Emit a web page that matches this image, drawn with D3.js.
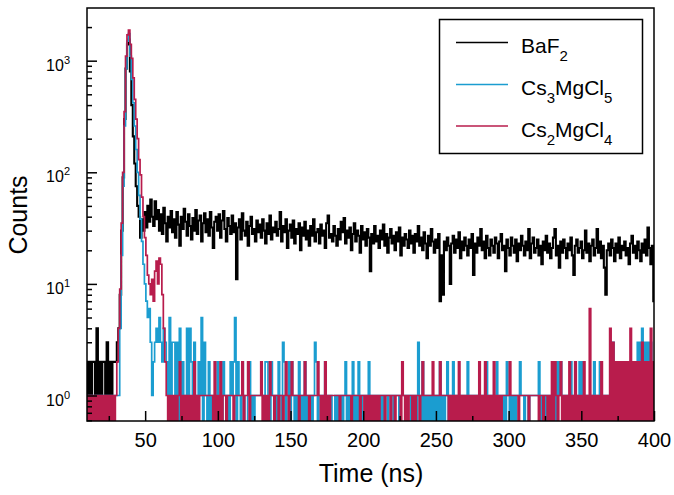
<!DOCTYPE html>
<html><head><meta charset="utf-8">
<script src="https://cdn.jsdelivr.net/npm/d3@7"></script>
<style>body{margin:0;background:#fff} text{font-family:"Liberation Sans",Arial,sans-serif;fill:#000}</style>
</head><body><svg id="c" width="674" height="495"></svg>
<script>
// time bins (ns)
const timeStart = 10, timeEnd = 400, timeStep = 1;

const baf2 = [
2,1,2,1,2,2,1,4,1,2,
1,2,2,1,3,1,2,1,2,2,
2,3,4,8,30,90,300,850,1400,1550,
800,400,210,120,75,50,40,26,38,30,
44,32,50,36,57,40,33,55,38,46,
30,42,28,48,35,24,40,32,45,29,
38,26,44,34,22,40,31,47,36,27,
42,33,25,39,30,46,28,37,41,24,
35,43,29,38,27,44,32,21,36,40,
30,42,26,37,45,31,24,39,33,28,
41,29,35,11,32,38,25,43,30,27,
36,22,33,40,28,31,24,37,29,34,
26,38,30,23,35,28,41,25,32,29,
36,27,31,44,24,33,29,38,21,30,
34,26,37,23,31,28,35,20,32,27,
36,25,30,22,33,27,38,24,29,31,
23,34,27,30,21,35,41,26,28,24,
33,27,22,31,25,36,29,39,23,30,
26,32,20,28,35,24,30,27,19,33,
25,29,22,31,26,13,28,23,33,24,
27,21,30,25,34,22,28,19,26,31,
23,27,20,29,24,32,18,26,22,28,
25,21,30,23,27,19,28,24,33,22,
26,20,29,23,17,27,22,31,24,19,
25,21,28,7,18,8,24,20,26,22,
10,23,27,19,25,21,29,17,24,20,
26,22,18,25,21,28,12,23,19,26,
22,31,20,24,17,27,21,18,25,22,
19,26,23,17,24,28,20,22,13,25,
21,18,26,22,19,25,16,23,20,27,
22,18,24,20,31,17,23,26,19,21,
25,18,22,15,24,20,27,19,23,17,
21,26,31,18,22,14,24,19,25,21,
17,23,20,26,18,12,22,25,19,21,
24,17,20,30,19,23,16,22,25,18,
21,31,19,24,17,22,14,8,20,23,
18,25,21,16,23,19,26,17,22,20,
24,18,21,15,23,27,19,22,17,24,
20,16,23,19,25,18,32,21,15,22,
7];

const cs3mgcl5 = [
1,1,1,0,1,1,1,1,0,1,
1,0,1,1,1,0,1,1,1,1,
1,1,1,4,18,75,260,850,1500,1750,
1100,680,420,260,160,100,62,38,24,15,
10,7,5,6,3,1,2,3,4,3,
5,3,2,4,3,2,1,5,1,3,
3,1,3,0,4,1,2,0,1,4,
1,4,2,1,3,0,1,2,1,5,
0,3,1,0,2,0,1,0,1,0,
2,0,1,0,2,1,0,1,0,2,
1,2,5,0,2,1,0,2,1,0,
0,1,2,0,1,0,1,1,1,1,
1,1,0,2,2,1,0,2,1,0,
1,0,2,1,0,3,2,0,1,2,
0,2,1,0,1,0,2,0,1,0,
2,0,1,0,1,0,1,3,2,0,
1,1,1,1,2,1,1,0,1,0,
0,1,0,1,0,1,0,1,2,0,
1,0,1,2,0,1,0,2,1,0,
1,1,1,1,2,1,1,1,1,1,
1,1,0,1,0,1,1,0,1,1,
1,0,1,1,1,0,1,1,1,1,
0,1,1,0,1,1,1,0,3,1,
0,2,0,1,0,1,0,1,0,1,
0,1,0,2,0,1,0,1,2,0,
1,1,2,1,1,1,1,1,1,1,
1,1,2,1,1,1,1,1,1,1,
1,1,1,1,1,2,1,1,1,1,
1,1,2,1,1,1,0,1,0,2,
1,0,1,0,1,0,1,1,2,1,
1,0,1,1,0,1,1,1,1,1,
1,2,0,1,0,1,0,1,0,1,
1,0,2,0,2,1,2,1,0,1,
1,1,0,2,1,1,2,1,1,2,
1,2,1,1,1,1,1,1,1,2,
1,1,1,2,1,1,1,1,1,1,
1,1,3,1,2,1,1,1,1,1,
1,1,2,1,1,1,2,1,1,3,
1,3,4,1,3,1,3,1,3,1,
1];

const cs2mgcl4 = [
1,0,1,0,1,0,1,0,1,0,
1,0,1,0,1,0,1,0,1,0,
1,2,4,9,35,100,350,1100,1700,1880,
1400,1050,700,450,300,200,130,95,60,40,
26,18,12,10,8,11,7,13,16,10,
17,15,8,4,2,1,0,1,0,1,
0,1,0,1,2,0,1,0,1,0,
1,0,1,0,2,0,1,0,1,1,
1,1,1,1,1,1,1,0,2,0,
1,0,2,0,1,1,0,1,1,1,
1,0,1,1,1,1,1,2,0,1,
1,2,0,1,1,1,1,1,1,1,
2,0,1,0,1,0,2,1,1,0,
1,1,0,1,1,0,1,2,1,0,
1,2,1,1,1,1,0,1,1,1,
2,1,1,0,1,1,1,1,1,2,
1,0,1,0,2,0,1,0,1,1,
1,1,1,1,0,1,1,1,1,1,
1,1,0,1,1,1,1,1,0,1,
1,0,1,0,1,0,1,0,1,0,
1,0,1,1,1,0,1,1,1,0,
1,1,0,1,1,1,0,2,1,0,
1,0,1,1,0,1,0,1,1,0,
1,2,1,1,1,1,1,1,2,1,
1,1,1,2,1,1,1,1,1,0,
1,0,1,0,1,0,2,0,1,0,
1,0,1,0,1,0,1,0,1,0,
2,0,1,0,2,0,1,0,1,0,
2,0,1,0,1,0,1,1,1,1,
1,2,1,1,1,1,1,0,1,1,
1,1,1,1,0,1,1,1,1,1,
1,0,1,1,0,1,1,0,1,0,
2,0,2,1,0,1,2,0,1,0,
1,0,2,0,1,0,2,0,1,0,
1,0,2,0,1,0,6,0,1,0,
1,0,1,0,2,0,1,0,1,0,
4,0,3,0,2,0,2,0,2,0,
2,0,2,0,4,0,2,0,2,0,
2,0,3,0,2,0,2,0,4,0,
2];

const seriesNames = ["BaF2", "Cs3MgCl5", "Cs2MgCl4"];
const legendParts = [
  [["BaF", false], ["2", true]],
  [["Cs", false], ["3", true], ["MgCl", false], ["5", true]],
  [["Cs", false], ["2", true], ["MgCl", false], ["4", true]]
];
const seriesColors = ["#000000", "#1b9dd0", "#b81c4c"];

const xDomain = [10, 400];
const yDomain = [0.591, 2965];
const xMajorTicks = [50, 100, 150, 200, 250, 300, 350, 400];
const xMinorTicks = [25, 75, 125, 175, 225, 275, 325, 375];
const yMajorTicks = [1, 10, 100, 1000];
const yExponents = ["0", "1", "2", "3"];
const yMinorTicks = [0.6,0.7,0.8,0.9,2,3,4,5,6,7,8,9,20,30,40,50,60,70,80,90,200,300,400,500,600,700,800,900,2000];

const svg = d3.select("#c");
const L = 87, T = 8, R = 654, B = 421;
const W = R - L, H = B - T;
const x = d3.scaleLinear().domain(xDomain).range([0, W]);
const y = d3.scaleLog().domain(yDomain).range([H, 0]);

svg.append("defs").append("clipPath").attr("id", "clip")
  .append("rect").attr("x", 0).attr("y", 0).attr("width", W).attr("height", H);

const g = svg.append("g").attr("transform", `translate(${L},${T})`);
const times = d3.range(timeStart, timeEnd + timeStep / 2, timeStep);
const yv = v => v > 0 ? y(v) : H + 20;
const line = d3.line().x((d, i) => x(times[i])).y(d => yv(d)).curve(d3.curveStep);

const plot = g.append("g").attr("clip-path", "url(#clip)");
[baf2, cs3mgcl5, cs2mgcl4].forEach((vals, k) => {
  plot.append("path").datum(vals)
    .attr("d", line)
    .attr("fill", "none")
    .attr("stroke", seriesColors[k])
    .attr("stroke-width", k === 0 ? 2.1 : 1.7)
    .attr("stroke-linejoin", "miter");
});

// axes (ticks inward)
const xAx = g.append("g").attr("transform", `translate(0,${H})`)
  .call(d3.axisBottom(x).tickValues(xMajorTicks).tickSize(-10).tickPadding(12).tickFormat(d3.format("d")));
const xAxMinor = g.append("g").attr("transform", `translate(0,${H})`)
  .call(d3.axisBottom(x).tickValues(xMinorTicks).tickSize(-5).tickFormat(""));
const yAx = g.append("g")
  .call(d3.axisLeft(y).tickValues(yMajorTicks).tickSize(-10).tickFormat(""));
const yAxMinor = g.append("g")
  .call(d3.axisLeft(y).tickValues(yMinorTicks).tickSize(-5).tickFormat(""));
[xAx, xAxMinor, yAx, yAxMinor].forEach(a => {
  a.select(".domain").remove();
  a.selectAll("line").attr("stroke", "#000").attr("stroke-width", 1.5);
});
xAx.selectAll("text").attr("font-size", 20).attr("font-family", "Liberation Sans, Arial, sans-serif");

// y labels 10^n
yMajorTicks.forEach((v, i) => {
  const t = g.append("text").attr("x", -17).attr("y", y(v) + 10)
    .attr("text-anchor", "end").attr("font-size", 16).text("10");
  t.append("tspan").attr("font-size", 11).attr("dy", -7).text(yExponents[i]);
});

// frame
g.append("rect").attr("x", 0).attr("y", 0).attr("width", W).attr("height", H)
  .attr("fill", "none").attr("stroke", "#000").attr("stroke-width", 1.5);

// axis titles
svg.append("text").attr("x", 371).attr("y", 482).attr("text-anchor", "middle")
  .attr("font-size", 25).text("Time (ns)");
svg.append("text").attr("transform", "translate(27,215) rotate(-90)")
  .attr("text-anchor", "middle").attr("font-size", 25).text("Counts");

// legend
const lg = svg.append("g");
lg.append("rect").attr("x", 439.5).attr("y", 19.5).attr("width", 203).attr("height", 134)
  .attr("fill", "#fff").attr("stroke", "#000").attr("stroke-width", 1.5);
const rowLineY = [42.5, 84.5, 126];
seriesNames.forEach((name, i) => {
  lg.append("line").attr("x1", 456).attr("x2", 508).attr("y1", rowLineY[i]).attr("y2", rowLineY[i])
    .attr("stroke", seriesColors[i]).attr("stroke-width", 1.5);
  const t = lg.append("text").attr("x", 521).attr("y", rowLineY[i] + 10.5).attr("font-size", 21);
  let shifted = false;
  legendParts[i].forEach(([s, sub]) => {
    const ts = t.append("tspan").text(s);
    if (sub && !shifted) { ts.attr("font-size", 15).attr("dy", 8); shifted = true; }
    else if (!sub && shifted) { ts.attr("dy", -8); shifted = false; }
    else if (sub) { ts.attr("font-size", 15); }
  });
});
</script></body></html>
